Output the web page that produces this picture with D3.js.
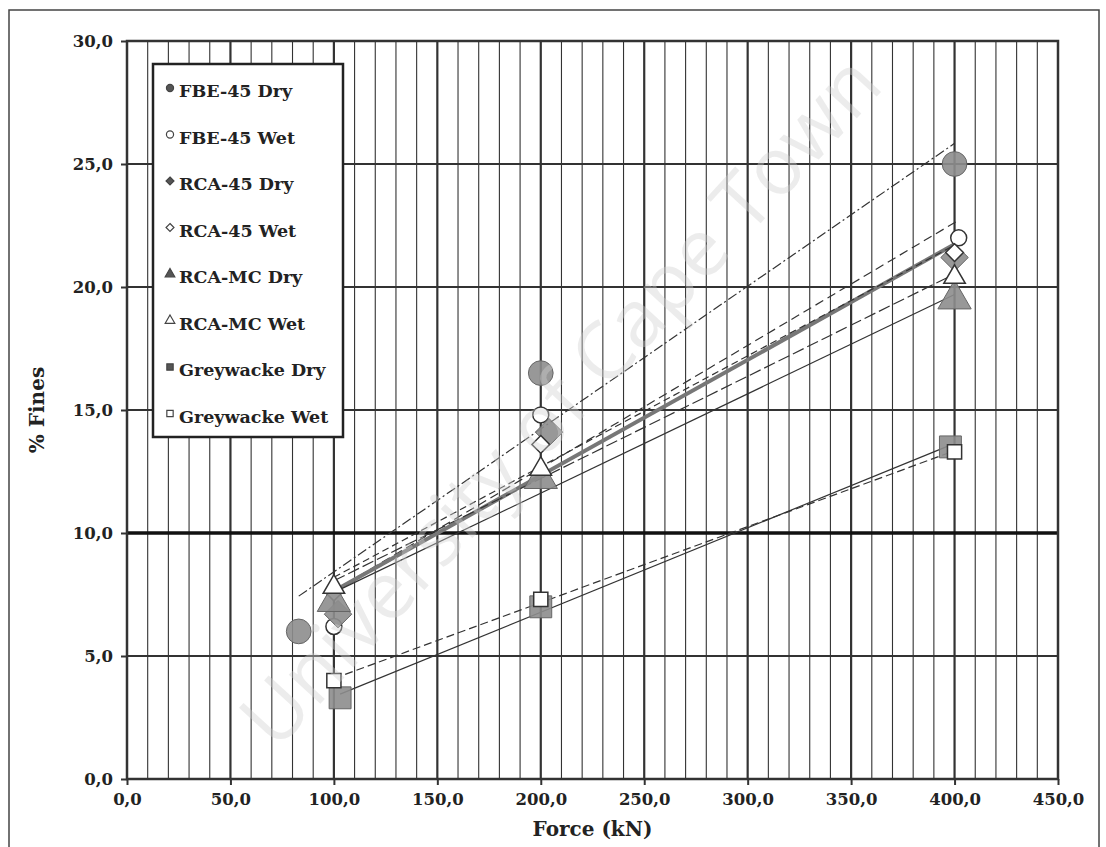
<!DOCTYPE html>
<html>
<head>
<meta charset="utf-8">
<script src="https://cdn.jsdelivr.net/npm/d3@7"></script>
<style>
  body { margin: 0; background: #fff; }
  svg text { font-family: "DejaVu Serif", "Liberation Serif", serif; font-weight: bold; fill: #222; }
</style>
</head>
<body>
<svg id="chart" width="1106" height="847"></svg>
<script>
// series names + marker kind
var seriesNames = ['FBE-45 Dry', 'FBE-45 Wet', 'RCA-45 Dry', 'RCA-45 Wet',
                   'RCA-MC Dry', 'RCA-MC Wet', 'Greywacke Dry', 'Greywacke Wet']

// force (kN) and % fines
var fbeDryForce = [83, 200, 400],  fbeDryFines = [6.0, 16.5, 25.0]
var fbeWetForce = [100, 200, 402], fbeWetFines = [6.2, 14.8, 22.0]
var rca45DryForce = [102, 204, 400], rca45DryFines = [6.7, 14.1, 21.2]
var rca45WetForce = [100, 200, 400], rca45WetFines = [7.6, 13.6, 21.4]
var rcaMcDryForce = [100, 200, 400], rcaMcDryFines = [7.2, 12.2, 19.5]
var rcaMcWetForce = [100, 200, 400], rcaMcWetFines = [7.8, 12.6, 20.4]
var greyDryForce = [103, 200, 398], greyDryFines = [3.3, 7.0, 13.5]
var greyWetForce = [100, 200, 400], greyWetFines = [4.0, 7.3, 13.3]

var xTicks = [0, 50, 100, 150, 200, 250, 300, 350, 400, 450]
var yTicks = [0, 5, 10, 15, 20, 25, 30]
var threshold = 10

var forces = [fbeDryForce, fbeWetForce, rca45DryForce, rca45WetForce, rcaMcDryForce, rcaMcWetForce, greyDryForce, greyWetForce]
var fines = [fbeDryFines, fbeWetFines, rca45DryFines, rca45WetFines, rcaMcDryFines, rcaMcWetFines, greyDryFines, greyWetFines]

var markers = [
  {sym: d3.symbolCircle, filled: true},
  {sym: d3.symbolCircle, filled: false},
  {sym: d3.symbolDiamond2, filled: true},
  {sym: d3.symbolDiamond2, filled: false},
  {sym: d3.symbolTriangle, filled: true},
  {sym: d3.symbolTriangle, filled: false},
  {sym: d3.symbolSquare, filled: true},
  {sym: d3.symbolSquare, filled: false}
]
// trendline look per series
var trendStyle = [
  {w: 1.2, dash: '10,3,2,3', c: '#333'},
  {w: 1.2, dash: '9,5', c: '#333'},
  {w: 4, dash: null, c: '#777'},
  {w: 1.2, dash: '7,4', c: '#333'},
  {w: 1.2, dash: null, c: '#333'},
  {w: 1.2, dash: '12,4', c: '#333'},
  {w: 1.2, dash: null, c: '#333'},
  {w: 1.2, dash: '8,4', c: '#333'}
]

var svg = d3.select('#chart'),
    pL = 127, pR = 1058, pT = 41, pB = 779,
    x = d3.scaleLinear().domain([0, 450]).range([pL, pR]),
    y = d3.scaleLinear().domain([0, 30]).range([pB, pT]),
    loc = d3.formatLocale({decimal: ',', thousands: '.', grouping: [3], currency: ['', '']}),
    fmt = loc.format('.1f')

// outer frame
svg.append('rect')
    .attr('x', 9).attr('y', 10).attr('width', 1090).attr('height', 845)
    .attr('fill', 'none').attr('stroke', '#444').attr('stroke-width', 1.5)

// vertical grid every 10 kN
svg.append('g').selectAll('line')
    .data(d3.range(10, 450, 10))
    .join('line')
    .attr('x1', d => x(d)).attr('x2', d => x(d))
    .attr('y1', pT).attr('y2', pB)
    .attr('stroke', '#333')
    .attr('stroke-width', d => d % 50 == 0 ? 2.2 : 1.1)

// horizontal grid
svg.append('g').selectAll('line')
    .data(yTicks.slice(1, -1))
    .join('line')
    .attr('x1', pL).attr('x2', pR)
    .attr('y1', d => y(d)).attr('y2', d => y(d))
    .attr('stroke', '#333').attr('stroke-width', 2)

// 10 % fines line
svg.append('line')
    .attr('x1', pL).attr('x2', pR)
    .attr('y1', y(threshold)).attr('y2', y(threshold))
    .attr('stroke', '#111').attr('stroke-width', 3.5)

// plot frame
svg.append('rect')
    .attr('x', pL).attr('y', pT).attr('width', pR - pL).attr('height', pB - pT)
    .attr('fill', 'none').attr('stroke', '#333').attr('stroke-width', 2.5)

// axes
var xAxis = svg.append('g')
    .attr('transform', 'translate(0,' + pB + ')')
    .call(d3.axisBottom(x).tickValues(xTicks).tickFormat(fmt).tickSize(6).tickPadding(8))
var yAxis = svg.append('g')
    .attr('transform', 'translate(' + pL + ',0)')
    .call(d3.axisLeft(y).tickValues(yTicks).tickFormat(fmt).tickSize(6).tickPadding(8))
;[xAxis, yAxis].forEach(function(a){
  a.select('.domain').remove()
  a.selectAll('.tick line').attr('stroke', '#333').attr('stroke-width', 2)
  a.selectAll('text').style('font-size', '16.5px').attr('fill', '#222')
})

// linear trendlines (least squares over each series)
function fit(xs, ys){
  var mx = d3.mean(xs), my = d3.mean(ys),
      sxy = d3.sum(xs, (v, i) => (v - mx) * (ys[i] - my)),
      sxx = d3.sum(xs, v => (v - mx) * (v - mx)),
      b = sxy / sxx
  return {b: b, a: my - b * mx}
}

var trends = svg.append('g')
forces.forEach(function(xs, i){
  var f = fit(xs, fines[i]), st = trendStyle[i],
      ext = d3.extent(xs)
  trends.append('line')
      .attr('x1', x(ext[0])).attr('y1', y(f.a + f.b * ext[0]))
      .attr('x2', x(ext[1])).attr('y2', y(f.a + f.b * ext[1]))
      .attr('stroke', st.c).attr('stroke-width', st.w)
      .attr('stroke-dasharray', st.dash)
})

// markers
var pts = svg.append('g')
forces.forEach(function(xs, i){
  var m = markers[i]
  pts.selectAll(null)
      .data(xs.map((v, j) => [v, fines[i][j]]))
      .join('path')
      .attr('transform', d => 'translate(' + x(d[0]) + ',' + y(d[1]) + ')')
      .attr('d', d3.symbol().type(m.sym).size(m.filled ? 480 : 200))
      .attr('fill', m.filled ? '#8d8d8d' : '#fff')
      .attr('fill-opacity', m.filled ? 0.9 : 1)
      .attr('stroke', m.filled ? '#666' : '#333')
      .attr('stroke-width', m.filled ? 1 : 1.5)
})

// legend
var lg = svg.append('g').attr('transform', 'translate(153,64)')
lg.append('rect')
    .attr('width', 190).attr('height', 373)
    .attr('fill', '#fff').attr('stroke', '#222').attr('stroke-width', 2.5)
seriesNames.forEach(function(name, i){
  var m = markers[i], yy = 33 + i * 46.5
  lg.append('path')
      .attr('transform', 'translate(17,' + (yy - 9) + ')')
      .attr('d', d3.symbol().type(m.sym).size(40))
      .attr('fill', m.filled ? '#555' : '#fff')
      .attr('stroke', '#444').attr('stroke-width', 1.2)
  lg.append('text')
      .attr('x', 26).attr('y', yy)
      .style('font-size', '17.5px')
      .text(name)
})

// axis titles
svg.append('text')
    .attr('x', (pL + pR) / 2).attr('y', 836)
    .attr('text-anchor', 'middle')
    .style('font-size', '20px')
    .text('Force (kN)')
svg.append('text')
    .attr('transform', 'translate(44,' + (pT + pB) / 2 + ') rotate(-90)')
    .attr('text-anchor', 'middle')
    .style('font-size', '20px')
    .text('% Fines')

// scan watermark
svg.append('text')
    .attr('transform', 'translate(565,405) rotate(-47.5)')
    .attr('text-anchor', 'middle')
    .attr('dominant-baseline', 'middle')
    .style('font-family', '"Open Sans", sans-serif')
    .style('font-weight', 'normal')
    .style('font-size', '80px')
    .style('fill', '#cfcfcf')
    .style('fill-opacity', 0.4)
    .text('University of Cape Town')
</script>
</body>
</html>
